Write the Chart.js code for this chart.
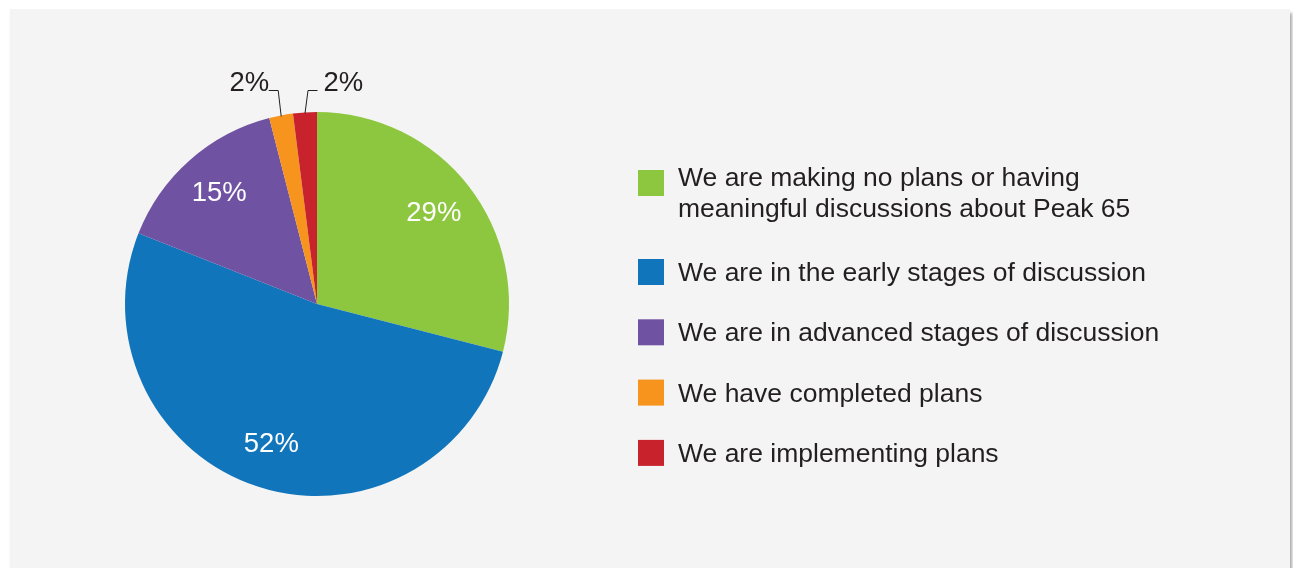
<!DOCTYPE html>
<html>
<head>
<meta charset="utf-8">
<title>Peak 65 planning</title>
<script src="https://cdn.jsdelivr.net/npm/chart.js@4/dist/chart.umd.min.js"></script>
<style>
    html, body { margin: 0; padding: 0; background: #ffffff; }
    body { width: 1293px; height: 568px; overflow: hidden; position: relative; }
    .panel {
        position: absolute;
        left: 10px;
        top: 9px;
        width: 1280px;
        height: 559px;
        background: #f4f4f4;
        box-shadow: 2px 4px 3px rgba(0, 0, 0, 0.35);
    }
    canvas { display: block; }
</style>
</head>
<body>
<div class="panel">
    <canvas id="planChart" width="1280" height="559"></canvas>
</div>

<script>
// ------------------------------------------------------------
// Données
// ------------------------------------------------------------
const categories = [
    ['We are making no plans or having', 'meaningful discussions about Peak 65'],
    ['We are in the early stages of discussion'],
    ['We are in advanced stages of discussion'],
    ['We have completed plans'],
    ['We are implementing plans']
];
const shares = [29, 52, 15, 2, 2];
const sliceColors = ['#8dc63f', '#1175bc', '#6f52a1', '#f7941d', '#c8232c'];

const FONT = '"Liberation Sans", Arial, Helvetica, sans-serif';
const TEXT_COLOR = '#231f20';

// ------------------------------------------------------------
// Étiquettes des parts (dedans ou avec trait de rappel)
// ------------------------------------------------------------
const sliceLabels = {
    id: 'sliceLabels',
    afterDatasetsDraw(chart) {
        const ctx = chart.ctx;
        const meta = chart.getDatasetMeta(0);
        const values = chart.data.datasets[0].data;

        ctx.save();
        ctx.font = '27.5px ' + FONT;
        meta.data.forEach(function(arc, i) {
            const p = arc.getProps(['x', 'y', 'startAngle', 'endAngle', 'outerRadius'], true);
            const mid = (p.startAngle + p.endAngle) / 2;
            const text = values[i] + '%';

            if (values[i] >= 5) {
                const r = p.outerRadius * 0.77;
                ctx.fillStyle = '#ffffff';
                ctx.textAlign = 'center';
                ctx.textBaseline = 'middle';
                ctx.fillText(text, p.x + Math.cos(mid) * r, p.y + Math.sin(mid) * r);
                return;
            }

            // petite part : trait coudé vers le haut puis texte sur le côté
            const next = values[(i + 1) % values.length];
            const side = next >= 5 ? 1 : -1;
            const r0 = p.outerRadius - 1;
            const x0 = p.x + Math.cos(mid) * r0;
            const y0 = p.y + Math.sin(mid) * r0;
            const x1 = x0 + side * 3;
            const y1 = p.y - p.outerRadius - 21.5;
            const x2 = x1 + side * 9.5;

            ctx.strokeStyle = TEXT_COLOR;
            ctx.lineWidth = 1;
            ctx.beginPath();
            ctx.moveTo(x0, y0);
            ctx.lineTo(x1, y1);
            ctx.lineTo(x2, y1);
            ctx.stroke();

            ctx.fillStyle = TEXT_COLOR;
            ctx.textBaseline = 'alphabetic';
            if (side < 0) {
                ctx.textAlign = 'right';
                ctx.fillText(text, x2 + 0.5, y1 + 0.5);
            } else {
                ctx.textAlign = 'left';
                ctx.fillText(text, x2 + 6, y1 + 0.5);
            }
        });
        ctx.restore();
    }
};

// ------------------------------------------------------------
// Légende à droite (carrés + texte sur une ou deux lignes)
// ------------------------------------------------------------
const sideLegend = {
    id: 'sideLegend',
    afterDraw(chart) {
        const ctx = chart.ctx;
        const labels = chart.data.labels;
        const colors = chart.data.datasets[0].backgroundColor;
        const boxX = 628, textX = 668, box = 26, lineH = 31.3;
        let top = 161;

        ctx.save();
        ctx.font = '26.5px ' + FONT;
        ctx.textAlign = 'left';
        ctx.textBaseline = 'alphabetic';
        labels.forEach(function(lines, i) {
            ctx.fillStyle = colors[i];
            ctx.fillRect(boxX, top, box, box);

            ctx.fillStyle = TEXT_COLOR;
            let base = top + 22 - (lines.length - 1) * 6;
            lines.forEach(function(line, k) {
                ctx.fillText(line, textX, base + k * lineH);
            });
            top += 60.3 + (lines.length - 1) * 28.7;
        });
        ctx.restore();
    }
};

// ------------------------------------------------------------
// Camembert
// ------------------------------------------------------------
const ctx = document.getElementById('planChart').getContext('2d');
new Chart(ctx, {
    type: 'pie',
    data: {
        labels: categories,
        datasets: [{
            data: shares,
            backgroundColor: sliceColors,
            borderWidth: 0,
            hoverOffset: 0
        }]
    },
    options: {
        responsive: false,
        animation: false,
        events: [],
        rotation: 0,
        layout: {
            padding: { left: 115, top: 103, right: 781, bottom: 72 }
        },
        plugins: {
            legend: { display: false },
            tooltip: { enabled: false }
        }
    },
    plugins: [sliceLabels, sideLegend]
});
</script>
</body>
</html>
